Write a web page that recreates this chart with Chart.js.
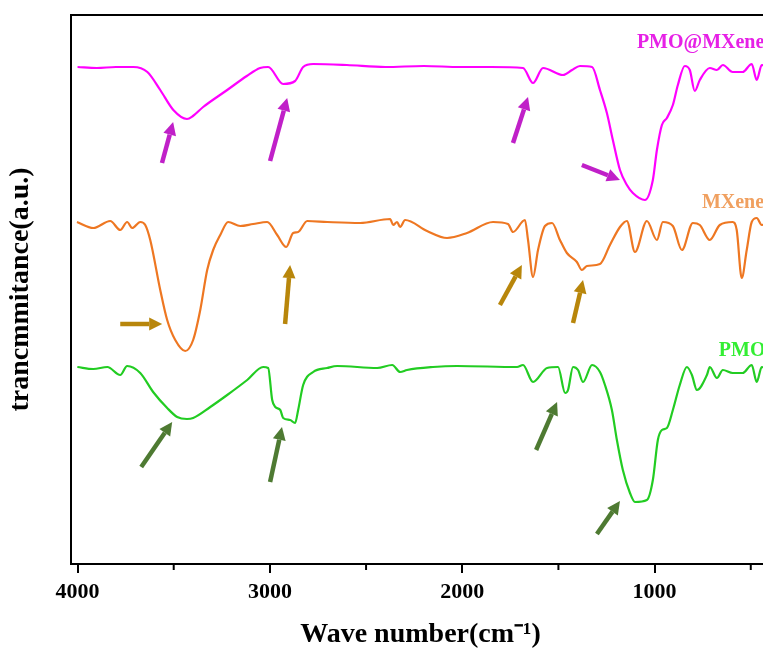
<!DOCTYPE html>
<html><head><meta charset="utf-8">
<script src="https://cdn.jsdelivr.net/npm/chart.js@4/dist/chart.umd.min.js"></script>
<style>
html,body{margin:0;padding:0;background:#fff;overflow:hidden;width:763px;height:652px}
#wrap{position:absolute;left:0;top:0;width:790px;height:652px}
</style>
</head><body><div id="wrap"><canvas id="c" width="790" height="652"></canvas></div>
<script>
// ---- data (wavenumber in cm-1, transmittance in a.u., curves offset) ----
const majorTicks = [4000, 3000, 2000, 1000];
const minorTicks = [3500, 2500, 1500, 500];

const pmoMxWn = [4000,3900,3800,3710,3637,3570,3502,3431,3400,3347,3222,3120,3051,3009,2931,2869,2827,2775,2600,2400,2200,2011,1850,1684,1632,1580,1476,1429,1388,1325,1284,1248,1217,1180,1144,1113,1050,1009,988,962,936,905,879,843,817,791,765,713,676,645,594,542,495,469,443,400];
const pmoMxT  = [497,496,497,497,492,474,454,445,448,457,474,488,496,497,480,483,497,500,499,497,498,497,497,496,481,496,489,494,498,497,474,451,424,394,379,371,364,384,414,439,446,459,479,498,494,473,484,496,494,499,492,492,500,484,499,498];

const mxWn = [4003,3918,3830,3778,3742,3716,3674,3648,3622,3570,3534,3492,3440,3399,3362,3326,3295,3258,3217,3154,3087,3014,2962,2915,2879,2853,2806,2702,2531,2375,2359,2339,2323,2297,2183,2079,1975,1840,1762,1736,1674,1658,1632,1606,1570,1533,1492,1456,1404,1378,1352,1284,1232,1180,1144,1102,1040,988,957,905,858,801,765,713,661,594,573,547,521,495,469,443,400];
const mxT  = [342,336,343,334,342,336,342,339,324,274,244,224,213,224,254,294,314,329,342,338,340,342,329,317,331,332,343,342,341,345,339,342,337,344,333,326,331,342,340,332,344,324,287,314,338,341,324,311,302,294,298,300,319,337,343,312,343,324,342,338,314,341,339,324,339,342,334,286,314,342,346,339,342];

const pmoWn = [4001,3918,3845,3778,3742,3674,3607,3534,3482,3431,3399,3310,3222,3118,3035,3009,2988,2972,2946,2931,2895,2869,2853,2827,2775,2702,2650,2442,2364,2323,2287,2152,2027,1715,1684,1632,1559,1502,1465,1450,1424,1398,1372,1325,1284,1258,1222,1196,1165,1128,1102,1040,1009,983,962,936,905,869,832,806,780,728,713,676,645,594,542,495,469,443,400];
const pmoT  = [197,195,197,189,198,191,172,156,147,145,146,157,169,184,197,196,164,157,154,146,144,141,154,179,192,196,198,196,199,192,194,197,198,197,199,182,196,197,171,174,197,194,182,199,192,179,154,124,94,71,62,64,84,124,134,136,154,179,197,189,174,189,197,186,194,191,191,199,182,197,194];

// series labels
const seriesNames = ['PMO@MXene', 'MXene', 'PMO'];
const labelWn = [1092, 754, 666];
const labelT  = [521, 361, 213];

// arrows: [tailWn, tailT, tipWn, tipT] per series
const arrowsPmoMx = [[3561,401,3503,442],[2999,403,2910,466],[1736,421,1658,467],[1378,399,1180,384]];
const arrowsMx    = [[3778,240,3560,240],[2921,240,2895,299],[1804,259,1690,299],[1424,241,1372,284]];
const arrowsPmo   = [[3669,97,3508,142],[2999,82,2937,137],[1616,114,1507,162],[1300,30,1180,63]];

// ---- styling ----
const SERIF = '"Liberation Serif","Times New Roman",serif';
const lineColors  = ['#ff00ff', '#ee7722', '#22cc22'];
const labelColors = ['#e620e6', '#f0a060', '#33ee33'];
const arrowColors = ['#c020c8', '#b8860b', '#4e7a32'];

const toPts = (wn, t) => wn.map((w, i) => ({x: w, y: t[i]}));

function drawArrow(ctx, x0, y0, x1, y1, color) {
  const ang = Math.atan2(y1 - y0, x1 - x0), head = 13, hw = 6.5;
  const bx = x1 - head * Math.cos(ang), by = y1 - head * Math.sin(ang);
  ctx.strokeStyle = color; ctx.lineWidth = 4.5; ctx.lineCap = 'butt';
  ctx.beginPath(); ctx.moveTo(x0, y0); ctx.lineTo(bx, by); ctx.stroke();
  ctx.fillStyle = color; ctx.beginPath(); ctx.moveTo(x1, y1);
  ctx.lineTo(bx + hw * Math.sin(ang), by - hw * Math.cos(ang));
  ctx.lineTo(bx - hw * Math.sin(ang), by + hw * Math.cos(ang));
  ctx.closePath(); ctx.fill();
}

const decor = {
  id: 'decor',
  afterDraw(chart) {
    const {ctx, chartArea: a, scales: {x, y}} = chart;
    ctx.save();
    ctx.strokeStyle = '#000'; ctx.lineWidth = 2;
    ctx.beginPath(); ctx.moveTo(a.left - 1, a.top); ctx.lineTo(a.right, a.top); ctx.lineTo(a.right, a.bottom); ctx.stroke();
    minorTicks.forEach(v => {
      const px = x.getPixelForValue(v);
      ctx.beginPath(); ctx.moveTo(px, a.bottom); ctx.lineTo(px, a.bottom + 6); ctx.stroke();
    });
    [arrowsPmoMx, arrowsMx, arrowsPmo].forEach((list, si) => {
      list.forEach(r => drawArrow(ctx, x.getPixelForValue(r[0]), y.getPixelForValue(r[1]),
        x.getPixelForValue(r[2]), y.getPixelForValue(r[3]), arrowColors[si]));
    });
    ctx.font = 'bold 20px ' + SERIF; ctx.textBaseline = 'middle'; ctx.textAlign = 'left';
    seriesNames.forEach((n, i) => {
      ctx.fillStyle = labelColors[i];
      ctx.fillText(n, x.getPixelForValue(labelWn[i]), y.getPixelForValue(labelT[i]));
    });
    ctx.restore();
  }
};

new Chart(document.getElementById('c'), {
  type: 'line',
  data: {
    datasets: [
      {label: seriesNames[0], data: toPts(pmoMxWn, pmoMxT), borderColor: lineColors[0]},
      {label: seriesNames[1], data: toPts(mxWn, mxT), borderColor: lineColors[1]},
      {label: seriesNames[2], data: toPts(pmoWn, pmoT), borderColor: lineColors[2]}
    ]
  },
  options: {
    responsive: false, animation: false, devicePixelRatio: 1,
    parsing: false,
    elements: {line: {borderWidth: 2.2, cubicInterpolationMode: 'monotone'}, point: {radius: 0}},
    layout: {padding: {top: 15, right: 20, left: 0, bottom: 0}},
    plugins: {legend: {display: false}, tooltip: {enabled: false}},
    scales: {
      x: {
        type: 'linear', reverse: true, min: 400, max: 4034,
        afterBuildTicks: s => { s.ticks = majorTicks.map(v => ({value: v})); },
        ticks: {autoSkip: false, maxRotation: 0, padding: 6, color: '#000',
          font: {family: SERIF, size: 22, weight: 'bold'}, callback: v => String(v)},
        grid: {display: true, drawOnChartArea: false, drawTicks: true, tickLength: 9, color: '#000', lineWidth: 2},
        border: {display: true, color: '#000', width: 2},
        title: {display: true, text: 'Wave number(cm⁻¹)', color: '#000',
          font: {family: SERIF, size: 28, weight: 'bold'}, padding: {top: 0, bottom: 0}},
        afterFit: s => { s.height = 88; }
      },
      y: {
        min: 0, max: 549,
        ticks: {display: false},
        grid: {display: false, drawTicks: false},
        border: {display: true, color: '#000', width: 2},
        title: {display: true, text: 'trancmmitance(a.u.)', color: '#000',
          font: {family: SERIF, size: 28, weight: 'bold'}, padding: {top: 4, bottom: 0}},
        afterFit: s => { s.width = 71; }
      }
    }
  },
  plugins: [decor]
});
</script>
</body></html>
